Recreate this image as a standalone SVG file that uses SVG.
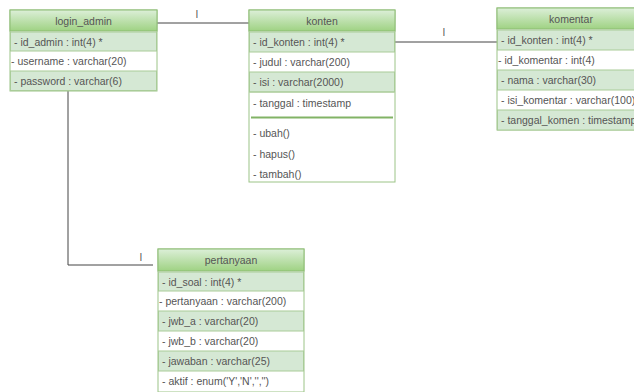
<svg xmlns="http://www.w3.org/2000/svg" width="634" height="392" viewBox="0 0 634 392">
<defs>
<linearGradient id="hg" x1="0" y1="0" x2="0" y2="1">
<stop offset="0" stop-color="#dcefd8"/>
<stop offset="1" stop-color="#9fd283"/>
</linearGradient>
<style>
.box{fill:#ffffff;stroke:#9cc487;stroke-width:1}
.hdr{fill:url(#hg);stroke:#8cbc72;stroke-width:1}
.row{fill:#d5e8d4;stroke:#a9cc98;stroke-width:1}
.t{font-family:"Liberation Sans",Arial,sans-serif;font-size:10.5px;fill:#555555}
.h{font-family:"Liberation Sans",Arial,sans-serif;font-size:10.5px;fill:#555555;text-anchor:middle}
.sep{stroke:#82b366;stroke-width:2}
.c{fill:none;stroke:#444444;stroke-width:1}
.l{font-family:"Liberation Sans",Arial,sans-serif;font-size:10px;fill:#555555;text-anchor:middle}
</style>
</defs>
<rect width="634" height="392" fill="#ffffff"/>
<g id="connectors">
<path class="c" d="M157 23 H249"/>
<text class="l" x="197" y="18">I</text>
<path class="c" d="M395 42 H497"/>
<text class="l" x="444" y="36">I</text>
<path class="c" d="M68 91 V265 H153"/>
<text class="l" x="141" y="261">I</text>
</g>
<g id="login_admin">
<rect class="box" x="10" y="10" width="147" height="81"/>
<rect class="hdr" x="10" y="10" width="147" height="21"/>
<text class="h" x="83.5" y="24.5">login_admin</text>
<rect class="row" x="10.5" y="32" width="146" height="19"/>
<text class="t" x="14" y="45.5">- id_admin : int(4) *</text>
<text class="t" x="11" y="65">- username : varchar(20)</text>
<rect class="row" x="10.5" y="71" width="146" height="19.5"/>
<text class="t" x="14" y="84.5">- password : varchar(6)</text>
</g>
<g id="konten">
<rect class="box" x="249" y="10" width="146" height="172"/>
<rect class="hdr" x="249" y="10" width="146" height="21"/>
<text class="h" x="322" y="24.5">konten</text>
<rect class="row" x="249.5" y="32" width="145" height="20"/>
<text class="t" x="253" y="46">- id_konten : int(4) *</text>
<text class="t" x="253" y="66">- judul : varchar(200)</text>
<rect class="row" x="249.5" y="72" width="145" height="20"/>
<text class="t" x="253" y="86">- isi : varchar(2000)</text>
<path d="M249.5 92 H394.5" stroke="#a9cc98" fill="none"/>
<text class="t" x="253" y="106.5">- tanggal : timestamp</text>
<line class="sep" x1="251" y1="117.5" x2="393" y2="117.5"/>
<text class="t" x="253" y="137">- ubah()</text>
<text class="t" x="253" y="158">- hapus()</text>
<text class="t" x="253" y="177.5">- tambah()</text>
</g>
<g id="komentar">
<rect class="box" x="497" y="8" width="148" height="122"/>
<rect class="hdr" x="497" y="8" width="148" height="21"/>
<text class="h" x="571" y="22.5">komentar</text>
<rect class="row" x="497.5" y="30" width="147" height="20"/>
<text class="t" x="501" y="44">- id_konten : int(4) *</text>
<text class="t" x="498" y="64">- id_komentar : int(4)</text>
<rect class="row" x="497.5" y="70" width="147" height="20"/>
<text class="t" x="501" y="84">- nama : varchar(30)</text>
<text class="t" x="501" y="104">- isi_komentar : varchar(100)</text>
<rect class="row" x="497.5" y="110" width="147" height="20"/>
<text class="t" x="501" y="124">- tanggal_komen : timestamp</text>
</g>
<g id="pertanyaan">
<rect class="box" x="158" y="249" width="146" height="143"/>
<rect class="hdr" x="158" y="249" width="146" height="22"/>
<text class="h" x="231" y="264">pertanyaan</text>
<rect class="row" x="158.5" y="272" width="145" height="19"/>
<text class="t" x="162" y="285.5">- id_soal : int(4) *</text>
<text class="t" x="159" y="305">- pertanyaan : varchar(200)</text>
<rect class="row" x="158.5" y="311" width="145" height="20"/>
<text class="t" x="162" y="325">- jwb_a : varchar(20)</text>
<text class="t" x="162" y="345">- jwb_b : varchar(20)</text>
<rect class="row" x="158.5" y="351" width="145" height="20"/>
<text class="t" x="162" y="365">- jawaban : varchar(25)</text>
<text class="t" x="162" y="385">- aktif : enum('Y','N','','')</text>
</g>
</svg>
